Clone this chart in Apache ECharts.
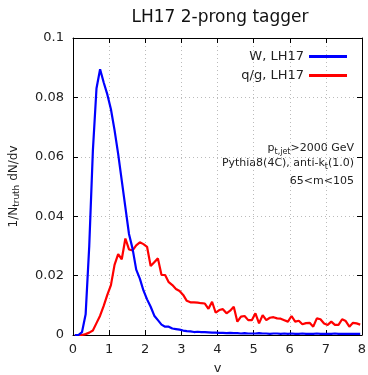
<!DOCTYPE html>
<html><head><meta charset="utf-8">
<script src="https://cdn.jsdelivr.net/npm/echarts@6/dist/echarts.min.js"></script>
<style>html,body{margin:0;padding:0;background:#fff}#c{width:368px;height:375px}</style>
</head><body><div id="c"></div>
<script>
var binStart = 0.05, binWidth = 0.1;
var wValues = [0,0,0.001,0.007,0.03,0.062,0.083,0.0895,0.085,0.081,
0.076,0.069,0.061,0.052,0.043,0.034,0.029,0.022,0.019,0.015,
0.012,0.0095,0.0065,0.005,0.0035,0.0028,0.0028,0.0022,0.002,0.0018,
0.0015,0.0013,0.0012,0.001,0.0011,0.001,0.001,0.0009,0.0008,0.0008,
0.0007,0.0007,0.0006,0.0007,0.0006,0.0006,0.0005,0.0006,0.0005,0.0005,
0.0005,0.0006,0.0005,0.0005,0.0004,0.0005,0.0005,0.0004,0.0005,0.0004,
0.0005,0.0004,0.0004,0.0005,0.0004,0.0004,0.0004,0.0005,0.0004,0.0004,
0.0004,0.0004,0.0005,0.0004,0.0004,0.0004,0.0004,0.0004,0.0004,0.0004];
var qgValues = [0,0,0,0.0003,0.0008,0.0015,0.004,0.0065,0.0098,0.0135,
0.0168,0.0236,0.0272,0.0255,0.0325,0.0288,0.0285,0.0302,0.0312,0.0306,
0.0297,0.0232,0.0245,0.0258,0.0202,0.0202,0.0178,0.0168,0.0155,0.0148,
0.0135,0.0115,0.011,0.011,0.0109,0.0107,0.0106,0.0088,0.0112,0.0075,
0.0084,0.0087,0.0073,0.0082,0.0095,0.0045,0.0062,0.0064,0.005,0.005,
0.0073,0.0039,0.0067,0.005,0.0058,0.006,0.0056,0.0055,0.005,0.0045,
0.0064,0.0045,0.0048,0.0036,0.004,0.0041,0.0028,0.0056,0.0053,0.0039,
0.0034,0.0045,0.0034,0.0034,0.0053,0.0047,0.0028,0.0041,0.0039,0.0035];
var seriesNames = ['W, LH17', 'q/g, LH17'];
var titleText = 'LH17 2-prong tagger';
var annotations = ['p{sub|t,jet}>2000 GeV', 'Pythia8(4C), anti-k{sub|t}(1.0)', '65<m<105'];

function pairs(vals){ return vals.map(function(v,i){ return [+(binStart + i*binWidth).toFixed(3), v]; }); }
var FONT = 'DejaVu Sans';
var chart = echarts.init(document.getElementById('c'), null, {renderer:'canvas'});
var axisCommon = {
  axisLine:{show:true, onZero:false, lineStyle:{color:'#000', width:1}},
  axisTick:{show:true, inside:true, length:5, lineStyle:{color:'#000'}}
};
chart.setOption({
  animation:false,
  textStyle:{fontFamily:FONT},
  title:{text:titleText, left:215, textAlign:'center', top:4, textStyle:{fontFamily:FONT, fontSize:17, fontWeight:'normal', color:'#111'}},
  grid:{left:73, right:6, top:38, bottom:40, containLabel:false, outerBoundsMode:'none'},
  legend:{
    data:seriesNames, orient:'vertical', right:16, top:45, align:'right', itemGap:6,
    itemWidth:38, itemHeight:3, icon:'rect',
    textStyle:{fontFamily:FONT, fontSize:13, color:'#222'}
  },
  graphic: annotations.map(function(t,i){
    return {type:'text', right:14, top:[143,158,176][i], style:{
      text:t, fill:'#222', font:'11px '+FONT, align:'right',
      rich:{sub:{fontSize:8, fontFamily:FONT, verticalAlign:'bottom', padding:[6,0,0,0], fill:'#222'}}
    }};
  }),
  xAxis:[
    Object.assign({type:'value', min:0, max:8, interval:1, position:'bottom',
      name:'v', nameLocation:'middle', nameGap:27, nameTextStyle:{fontFamily:FONT, fontSize:13, color:'#222'},
      axisLabel:{fontFamily:FONT, fontSize:13, color:'#222', margin:8},
      splitLine:{show:true, lineStyle:{color:'#bbb', type:[1,3], width:1}}}, axisCommon),
    Object.assign({type:'value', min:0, max:8, interval:1, position:'top', axisLabel:{show:false}, splitLine:{show:false}}, axisCommon)
  ],
  yAxis:[
    Object.assign({type:'value', min:0, max:0.1, interval:0.02, position:'left',
      name:'1/N{sub|truth} dN/dv', nameLocation:'middle', nameGap:52, nameRotate:90,
      nameTextStyle:{fontFamily:FONT, fontSize:12, color:'#222', rich:{sub:{fontSize:9, fontFamily:FONT, color:'#222', verticalAlign:'bottom', padding:[6,0,0,0]}}},
      axisLabel:{fontFamily:FONT, fontSize:13, color:'#222', margin:9},
      splitLine:{show:true, lineStyle:{color:'#bbb', type:[1,3], width:1}}}, axisCommon),
    Object.assign({type:'value', min:0, max:0.1, interval:0.02, position:'right', axisLabel:{show:false}, splitLine:{show:false}}, axisCommon)
  ],
  series:[
    {name:seriesNames[0], type:'line', data:pairs(wValues), showSymbol:false, symbol:'none', lineStyle:{color:'#0000ff', width:2.2}, itemStyle:{color:'#0000ff'}, z:3},
    {name:seriesNames[1], type:'line', data:pairs(qgValues), showSymbol:false, symbol:'none', lineStyle:{color:'#ff0000', width:2.2}, itemStyle:{color:'#ff0000'}, z:2}
  ]
});
</script></body></html>
